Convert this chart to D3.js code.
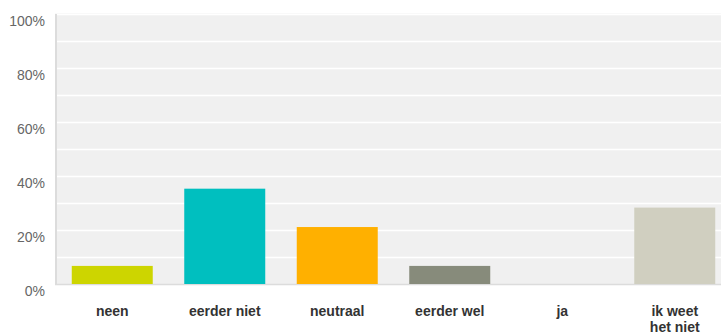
<!DOCTYPE html>
<html>
<head>
<meta charset="utf-8">
<script src="https://cdn.jsdelivr.net/npm/d3@7"></script>
<style>
  body { margin: 0; background: #fff; }
  svg { display: block; font-family: "Liberation Sans", Arial, Helvetica, sans-serif; }
</style>
</head>
<body>
<svg id="chart" width="721" height="334"></svg>
<script>
// answer options, share of respondents (%)
var categories = ["neen", "eerder niet", "neutraal", "eerder wel", "ja", "ik weet het niet"];
var labelLines = [["neen"], ["eerder niet"], ["neutraal"], ["eerder wel"], ["ja"], ["ik weet", "het niet"]];
var values = [6.7, 35.3, 21.1, 6.7, 0, 28.3];
var colors = ["#cdd500", "#00bfbf", "#ffb000", "#878b7b", "#bbbbbb", "#d0cfc0"];
var tickValues = [0, 20, 40, 60, 80, 100];

var svg = d3.select("svg"),
  margin = { top: 14, right: 0, bottom: 50, left: 55 },
  width = 721 - margin.left - margin.right,
  height = 334 - margin.top - margin.bottom;

var x = d3.scaleBand()
  .domain(categories)
  .range([1, 676])
  .paddingInner(0.28)
  .paddingOuter(0.14);

var y = d3.scaleLinear()
  .domain([0, 100])
  .range([height, 0]);

var g = svg.append("g")
  .attr("transform", "translate(" + margin.left + "," + margin.top + ")");

// plot background
g.append("rect")
  .attr("x", 0)
  .attr("y", -0.5)
  .attr("width", width)
  .attr("height", height + 0.5)
  .attr("fill", "#f0f0f0");

// gridlines every 10%
g.selectAll("line.grid")
  .data(d3.range(10, 101, 10))
  .enter().append("line")
  .attr("class", "grid")
  .attr("x1", 0)
  .attr("x2", width)
  .attr("y1", function(d) { return Math.round(y(d)) + 0.5; })
  .attr("y2", function(d) { return Math.round(y(d)) + 0.5; })
  .attr("stroke", "#fff")
  .attr("stroke-width", 1.5);

// left and bottom border
g.append("line")
  .attr("x1", 1).attr("x2", 1)
  .attr("y1", 0).attr("y2", height)
  .attr("stroke", "#dcdcdc")
  .attr("stroke-width", 2);
g.append("line")
  .attr("x1", 0).attr("x2", width)
  .attr("y1", height + 0.5).attr("y2", height + 0.5)
  .attr("stroke", "#dcdcdc")
  .attr("stroke-width", 1.5);

// bars
g.selectAll("rect.bar")
  .data(values)
  .enter().append("rect")
  .attr("class", "bar")
  .attr("x", function(d, i) { return x(categories[i]); })
  .attr("width", x.bandwidth())
  .attr("y", function(d) { return y(d); })
  .attr("height", function(d) { return height - y(d); })
  .attr("fill", function(d, i) { return colors[i]; });

// y axis
var yAxis = g.append("g")
  .call(d3.axisLeft(y).tickValues(tickValues).tickSize(0).tickPadding(10)
    .tickFormat(function(d) { return d + "%"; }));
yAxis.select(".domain").remove();
yAxis.selectAll("text")
  .attr("dy", "0.85em")
  .attr("x", -10)
  .style("font-size", "14px")
  .style("fill", "#666");

// x labels
var xl = g.selectAll("text.xlabel")
  .data(categories)
  .enter().append("text")
  .attr("class", "xlabel")
  .attr("text-anchor", "middle")
  .attr("x", function(d) { return x(d) + x.bandwidth() / 2; })
  .attr("y", height + 32)
  .style("font-size", "14px")
  .style("font-weight", "bold")
  .style("fill", "#333");
xl.selectAll("tspan")
  .data(function(d, i) { return labelLines[i]; })
  .enter().append("tspan")
  .attr("x", function() { var p = d3.select(this.parentNode).datum(); return x(p) + x.bandwidth() / 2; })
  .attr("dy", function(d, i) { return i === 0 ? 0 : 16; })
  .text(function(d) { return d; });
</script>
</body>
</html>
